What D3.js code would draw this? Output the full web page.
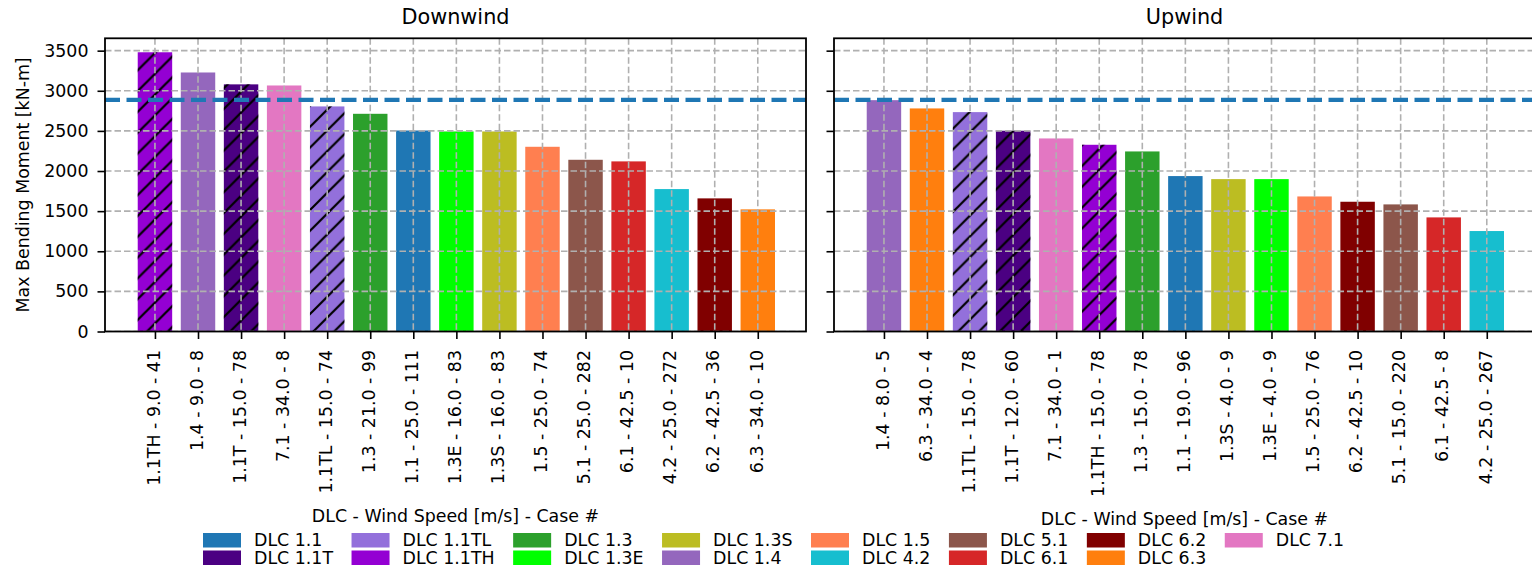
<!DOCTYPE html>
<html><head><meta charset="utf-8">
<script src="https://cdn.jsdelivr.net/npm/d3@7"></script>
<style>
body{margin:0;background:#fff}
svg{display:block}
text{font-family:"DejaVu Sans",sans-serif;fill:#000}
</style>
</head><body>
<svg id="chart" width="1532" height="566"></svg>
<script>
// ---- data ----
const legendDLC = ["1.1","1.1T","1.1TL","1.1TH","1.3","1.3E","1.3S","1.4","1.5","4.2","5.1","6.1","6.2","6.3","7.1"];
const legendColors = ["#1f77b4","#4b0082","#9370db","#9400d3","#2ca02c","#00ff00","#bcbd22","#9467bd","#ff7f50","#17becf","#8c564b","#d62728","#800000","#ff7f0e","#e377c2"];
const hatchedDLC = ["1.1T","1.1TL","1.1TH"];

const downDLC = ["1.1TH","1.4","1.1T","7.1","1.1TL","1.3","1.1","1.3E","1.3S","1.5","5.1","6.1","4.2","6.2","6.3"];
const downWind = ["9.0","9.0","15.0","34.0","15.0","21.0","25.0","16.0","16.0","25.0","25.0","42.5","25.0","42.5","34.0"];
const downCase = ["41","8","78","8","74","99","111","83","83","74","282","10","272","36","10"];
const downValues = [3480,3228,3080,3066,2805,2713,2505,2493,2493,2302,2140,2120,1775,1659,1522];

const upDLC = ["1.4","6.3","1.1TL","1.1T","7.1","1.1TH","1.3","1.1","1.3S","1.3E","1.5","6.2","5.1","6.1","4.2"];
const upWind = ["8.0","34.0","15.0","12.0","34.0","15.0","15.0","19.0","4.0","4.0","25.0","42.5","15.0","42.5","25.0"];
const upCase = ["5","4","78","60","1","78","78","96","9","9","76","10","220","8","267"];
const upValues = [2883,2780,2734,2502,2406,2327,2244,1937,1899,1899,1683,1617,1584,1422,1252];

const limitValue = 2887;
const yTickValues = [0,500,1000,1500,2000,2500,3000,3500];
const panelTitles = ["Downwind","Upwind"];
const xLabelText = "DLC - Wind Speed [m/s] - Case #";
const yLabelText = "Max Bending Moment [kN-m]";

// ---- setup ----
const svg = d3.select("#chart");
const color = d3.scaleOrdinal().domain(legendDLC).range(legendColors);
const FS = 17.4;
const plotTop = 38.3, plotBottom = 331.5;
const yMax = d3.max(downValues.concat(upValues)) * 1.05;
const y = d3.scaleLinear().domain([0, yMax]).range([plotBottom, plotTop]);

const defs = svg.append("defs");
const hp = 20.8;
const pat = defs.append("pattern").attr("id","hatch").attr("patternUnits","userSpaceOnUse")
  .attr("width",hp).attr("height",hp);
pat.append("path")
  .attr("d",`M0,${hp} L${hp},0 M${-hp/4},${hp/4} L${hp/4},${-hp/4} M${hp*0.75},${hp*1.25} L${hp*1.25},${hp*0.75}`)
  .attr("stroke","#000").attr("stroke-width",2.2);

function panel(idx, left, width, dlc, wind, cases, values, showYLabels, xLabelY) {
  const clipId = "clip"+idx;
  defs.append("clipPath").attr("id",clipId).append("rect")
    .attr("x",left).attr("y",plotTop).attr("width",Math.min(width, 1532-left)).attr("height",plotBottom-plotTop);
  const x = d3.scaleLinear().domain([-1.16, 15.12]).range([left, left+width]);
  const idxs = d3.range(values.length);
  const bw = x(0.4) - x(-0.4);
  const g = svg.append("g");
  const plot = g.append("g").attr("clip-path",`url(#${clipId})`);

  // bars
  plot.selectAll("rect.bar").data(idxs).join("rect").attr("class","bar")
    .attr("x", i => x(i) - bw/2).attr("width", bw)
    .attr("y", i => y(values[i])).attr("height", i => y(0) - y(values[i]))
    .attr("fill", i => color(dlc[i]));
  plot.selectAll("rect.hatch").data(idxs.filter(i => hatchedDLC.includes(dlc[i]))).join("rect").attr("class","hatch")
    .attr("x", i => x(i) - bw/2).attr("width", bw)
    .attr("y", i => y(values[i])).attr("height", i => y(0) - y(values[i]))
    .attr("fill", "url(#hatch)");

  // grid (on top of bars)
  const gridStyle = sel => sel.attr("stroke","#b0b0b0").attr("stroke-width",1.6).attr("stroke-dasharray","6.5,3");
  plot.selectAll("line.hg").data(yTickValues).join("line").attr("class","hg")
    .attr("x1",left).attr("x2",left+width).attr("y1",d=>y(d)).attr("y2",d=>y(d)).call(gridStyle);
  plot.selectAll("line.vg").data(idxs).join("line").attr("class","vg")
    .attr("x1",i=>x(i)).attr("x2",i=>x(i)).attr("y1",plotTop).attr("y2",plotBottom).call(gridStyle);

  // limit line
  plot.append("line").attr("x1",left).attr("x2",left+width)
    .attr("y1",y(limitValue)).attr("y2",y(limitValue))
    .attr("stroke","#1f77b4").attr("stroke-width",4.2).attr("stroke-dasharray","15,6.5");

  // axes
  const xAxis = d3.axisBottom(x).tickValues(idxs).tickSize(7.5).tickPadding(2)
    .tickFormat(i => `${dlc[i]} - ${wind[i]} - ${cases[i]}`);
  const xg = g.append("g").attr("transform",`translate(0,${plotBottom})`).call(xAxis);
  xg.select(".domain").remove();
  xg.selectAll(".tick line").attr("stroke","#000").attr("stroke-width",1.6);
  xg.selectAll(".tick text").attr("font-size",FS).attr("font-family","DejaVu Sans")
    .attr("text-anchor","end").attr("dy","0.33em")
    .attr("transform","translate(-1.5,18.5) rotate(-90)").attr("x",0).attr("y",0);

  const yAxis = d3.axisLeft(y).tickValues(yTickValues).tickSize(7.5).tickPadding(9)
    .tickFormat(showYLabels ? d3.format("d") : () => "");
  const yg = g.append("g").attr("transform",`translate(${left},0)`).call(yAxis);
  yg.select(".domain").remove();
  yg.selectAll(".tick line").attr("stroke","#000").attr("stroke-width",1.6);
  yg.selectAll(".tick text").attr("font-size",FS).attr("font-family","DejaVu Sans");

  // frame
  g.append("rect").attr("x",left).attr("y",plotTop).attr("width",width).attr("height",plotBottom-plotTop)
    .attr("fill","none").attr("stroke","#000").attr("stroke-width",1.8);

  // title
  g.append("text").attr("x",left+width/2).attr("y",24).attr("text-anchor","middle")
    .attr("font-size",20.8).text(panelTitles[idx]);
  // x label
  g.append("text").attr("x",left+width/2).attr("y",xLabelY).attr("text-anchor","middle")
    .attr("font-size",FS).text(xLabelText);
}

panel(0, 105, 701, downDLC, downWind, downCase, downValues, true, 521.5);
panel(1, 834, 701, upDLC, upWind, upCase, upValues, false, 524.5);

// y label
svg.append("text").attr("transform",`translate(23,${(plotTop+plotBottom)/2}) rotate(-90)`)
  .attr("text-anchor","middle").attr("dy","0.35em").attr("font-size",FS).text(yLabelText);

// legend: 2 rows, column-major
const lg = svg.append("g");
let cx = 203;
const rowsY = [533, 550.5];
for (let c = 0; c < Math.ceil(legendDLC.length/2); c++) {
  let maxW = 0;
  for (let r = 0; r < 2; r++) {
    const k = c*2 + r;
    if (k >= legendDLC.length) break;
    lg.append("rect").attr("x",cx).attr("y",rowsY[r]).attr("width",38).attr("height",14.5)
      .attr("fill",color(legendDLC[k]));
    const t = lg.append("text").attr("x",cx+51).attr("y",rowsY[r]+7.2).attr("dy","0.35em")
      .attr("font-size",FS).text("DLC " + legendDLC[k]);
    maxW = Math.max(maxW, t.node().getComputedTextLength());
  }
  cx += 51 + maxW + 18.5;
}
</script>
</body></html>
